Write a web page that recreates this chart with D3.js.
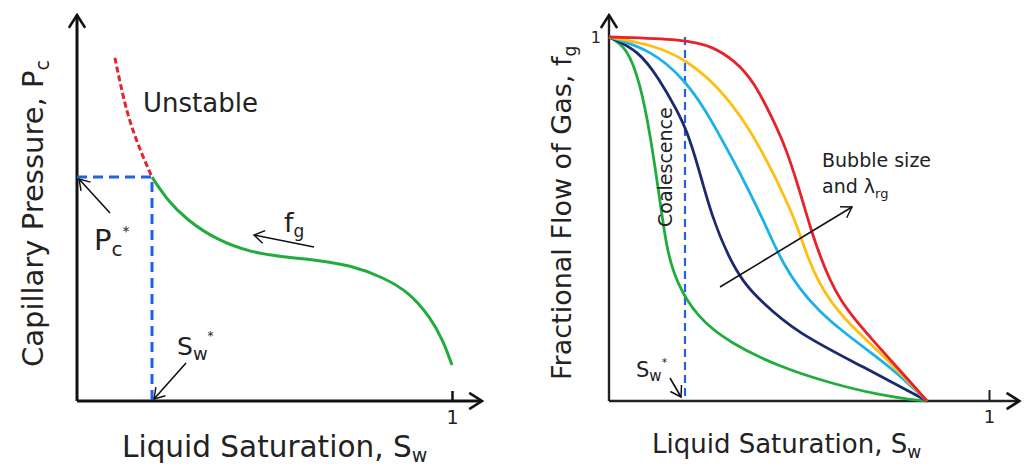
<!DOCTYPE html>
<html>
<head>
<meta charset="utf-8">
<script src="https://cdn.jsdelivr.net/npm/d3@7"></script>
<style>
  body { margin: 0; background: #fff; }
  svg { display: block; font-family: 'DejaVu Sans', sans-serif; }
  text { fill: #222; }
</style>
</head>
<body>
<div id="chart"></div>
<script>
// capillary pressure curve (Sw, Pc in 0..1)
const pcStableSw = [0.2, 0.24, 0.293, 0.373, 0.461, 0.549, 0.64, 0.728, 0.816, 0.888, 0.941, 0.976, 1.0];
const pcStable   = [0.58, 0.521, 0.469, 0.417, 0.386, 0.373, 0.365, 0.352, 0.321, 0.28, 0.218, 0.158, 0.093];
const pcUnstableSw = [0.101, 0.115, 0.136, 0.168, 0.2];
const pcUnstable   = [0.889, 0.824, 0.736, 0.65, 0.58];

// fractional flow curves (Sw, fg)
const fgGreen = [[0, 1], [0.047, 0.973], [0.082, 0.873], [0.108, 0.736], [0.134, 0.552], [0.152, 0.415],
  [0.178, 0.324], [0.231, 0.231], [0.318, 0.159], [0.45, 0.093], [0.582, 0.049], [0.713, 0.016], [0.8, 0.003], [0.837, 0]];
const fgNavy = [[0, 1], [0.077, 0.964], [0.134, 0.882], [0.178, 0.8], [0.204, 0.745], [0.235, 0.644],
  [0.27, 0.507], [0.318, 0.388], [0.355, 0.325], [0.397, 0.277], [0.494, 0.187], [0.669, 0.094], [0.837, 0]];
const fgCyan = [[0, 1], [0.112, 0.964], [0.2, 0.882], [0.253, 0.8], [0.283, 0.745], [0.325, 0.665],
  [0.365, 0.585], [0.4, 0.51], [0.43, 0.44], [0.46, 0.375], [0.5, 0.31], [0.55, 0.25], [0.61, 0.195],
  [0.68, 0.14], [0.75, 0.085], [0.837, 0]];
const fgOrange = [[0, 1], [0.116, 0.978], [0.2, 0.94], [0.29, 0.862], [0.362, 0.76], [0.4, 0.69],
  [0.435, 0.62], [0.462, 0.56], [0.485, 0.507], [0.505, 0.45], [0.525, 0.39], [0.55, 0.33], [0.585, 0.27],
  [0.63, 0.215], [0.68, 0.165], [0.74, 0.105], [0.837, 0]];
const fgRed = [[0, 1], [0.2, 0.994], [0.275, 0.973], [0.33, 0.935], [0.38, 0.882], [0.445, 0.745],
  [0.47, 0.68], [0.495, 0.6], [0.515, 0.53], [0.535, 0.46], [0.555, 0.4], [0.58, 0.335], [0.61, 0.275],
  [0.65, 0.22], [0.7, 0.16], [0.757, 0.094], [0.837, 0]];

const swStar = 0.2;
const pcStar = 0.58;
const tickVals = [1];

const svg = d3.select('#chart').append('svg')
  .attr('width', 1026)
  .attr('height', 472);

svg.append('rect').attr('width', 1026).attr('height', 472).attr('fill', '#fff');

// open arrowheads
const defs = svg.append('defs');
function marker(id, size, sw) {
  defs.append('marker')
    .attr('id', id)
    .attr('viewBox', '-12 -8 14 16')
    .attr('refX', 0).attr('refY', 0)
    .attr('markerWidth', size * 14 / 12).attr('markerHeight', size * 16 / 12)
    .attr('markerUnits', 'userSpaceOnUse')
    .attr('orient', 'auto')
    .append('path')
    .attr('d', 'M-11,-7 L0,0 L-11,7')
    .attr('fill', 'none')
    .attr('stroke', '#111')
    .attr('stroke-width', sw);
}
marker('axisHead', 14, 2.2);
marker('thinHead', 11, 1.6);

// ---------- left panel: capillary pressure ----------
const xL = d3.scaleLinear().domain([0, 1]).range([77, 452]);
const yL = d3.scaleLinear().domain([0, 1]).range([401, 15]);
const gL = svg.append('g');

gL.append('g')
  .attr('transform', `translate(0,${yL(0)})`)
  .call(d3.axisBottom(xL).tickValues(tickVals).tickSize(-10).tickPadding(10).tickFormat(d3.format('d')))
  .call(g => g.select('.domain').remove())
  .call(g => g.selectAll('line').attr('stroke', '#111').attr('stroke-width', 2.5))
  .call(g => g.selectAll('text').attr('font-size', 19).attr('font-family', 'DejaVu Sans').attr('fill', '#222'));

gL.append('line')
  .attr('x1', xL(0)).attr('y1', yL(0)).attr('x2', xL(1.08)).attr('y2', yL(0))
  .attr('stroke', '#111').attr('stroke-width', 3).attr('marker-end', 'url(#axisHead)');
gL.append('line')
  .attr('x1', xL(0)).attr('y1', yL(0)).attr('x2', xL(0)).attr('y2', yL(1))
  .attr('stroke', '#111').attr('stroke-width', 3).attr('marker-end', 'url(#axisHead)');

// guides to the critical point
gL.append('path')
  .attr('d', `M${xL(0)},${yL(pcStar)} H${xL(swStar)} V${yL(0)}`)
  .attr('fill', 'none').attr('stroke', '#2262e2').attr('stroke-width', 3)
  .attr('stroke-dasharray', '10 6');

const lineL = d3.line().x(d => xL(d[0])).y(d => yL(d[1])).curve(d3.curveBasis);
gL.append('path')
  .datum(d3.zip(pcUnstableSw, pcUnstable))
  .attr('d', lineL)
  .attr('fill', 'none').attr('stroke', '#e3262b').attr('stroke-width', 3)
  .attr('stroke-dasharray', '6 3');
gL.append('path')
  .datum(d3.zip(pcStableSw, pcStable))
  .attr('d', lineL)
  .attr('fill', 'none').attr('stroke', '#21ac3e').attr('stroke-width', 3);

// annotations
gL.append('text').attr('x', 143).attr('y', 112).attr('font-size', 26).text('Unstable');

const pcLab = gL.append('text').attr('x', 94).attr('y', 250).attr('font-size', 29);
pcLab.append('tspan').text('P');
pcLab.append('tspan').attr('font-size', 20).attr('dy', 6).text('c');
pcLab.append('tspan').attr('font-size', 14).attr('dy', -20).text('*');

const fgLab = gL.append('text').attr('x', 284).attr('y', 232).attr('font-size', 27);
fgLab.append('tspan').text('f');
fgLab.append('tspan').attr('font-size', 17).attr('dy', 5).text('g');

const swLab = gL.append('text').attr('x', 177).attr('y', 355).attr('font-size', 25);
swLab.append('tspan').text('S');
swLab.append('tspan').attr('font-size', 18).attr('dy', 5).text('w');
swLab.append('tspan').attr('font-size', 12).attr('dy', -20).text('*');

[[110, 213, 79, 179], [314, 247, 254, 235], [186, 363, 154, 399]].forEach(a => {
  gL.append('line')
    .attr('x1', a[0]).attr('y1', a[1]).attr('x2', a[2]).attr('y2', a[3])
    .attr('stroke', '#111').attr('stroke-width', 1.6).attr('marker-end', 'url(#thinHead)');
});

// axis titles
const ttlL = gL.append('text').attr('x', 122).attr('y', 457).attr('font-size', 29.5);
ttlL.append('tspan').text('Liquid Saturation,  S');
ttlL.append('tspan').attr('font-size', 19).attr('dy', 5).text('w');

const ytL = gL.append('text')
  .attr('transform', 'translate(43,367) rotate(-90)')
  .attr('font-size', 29);
ytL.append('tspan').text('Capillary Pressure, P');
ytL.append('tspan').attr('font-size', 19).attr('dy', 6).text('c');

// ---------- right panel: fractional flow ----------
const xR = d3.scaleLinear().domain([0, 1]).range([609, 989]);
const yR = d3.scaleLinear().domain([0, 1]).range([401, 37]);
const gR = svg.append('g');

gR.append('g')
  .attr('transform', `translate(0,${yR(0)})`)
  .call(d3.axisBottom(xR).tickValues(tickVals).tickSize(-11).tickPadding(9).tickFormat(d3.format('d')))
  .call(g => g.select('.domain').remove())
  .call(g => g.selectAll('line').attr('stroke', '#222').attr('stroke-width', 2))
  .call(g => g.selectAll('text').attr('font-size', 18).attr('font-family', 'DejaVu Sans').attr('fill', '#222'));

gR.append('g')
  .attr('transform', `translate(${xR(0)},0)`)
  .call(d3.axisLeft(yR).tickValues(tickVals).tickSize(0).tickPadding(8).tickFormat(d3.format('d')))
  .call(g => g.select('.domain').remove())
  .call(g => g.selectAll('text').attr('font-size', 16).attr('font-family', 'DejaVu Sans').attr('fill', '#222'));

gR.append('line')
  .attr('x1', xR(0)).attr('y1', yR(0)).attr('x2', xR(1.08)).attr('y2', yR(0))
  .attr('stroke', '#222').attr('stroke-width', 2.4).attr('marker-end', 'url(#axisHead)');
gR.append('line')
  .attr('x1', xR(0)).attr('y1', yR(0)).attr('x2', xR(0)).attr('y2', yR(1.06))
  .attr('stroke', '#222').attr('stroke-width', 2.4).attr('marker-end', 'url(#axisHead)');

gR.append('line')
  .attr('x1', xR(swStar)).attr('y1', yR(1)).attr('x2', xR(swStar)).attr('y2', yR(0))
  .attr('stroke', '#2262e2').attr('stroke-width', 2.2).attr('stroke-dasharray', '8 5');

const lineR = d3.line().x(d => xR(d[0])).y(d => yR(d[1])).curve(d3.curveBasis);
const curves = [
  { pts: fgGreen, color: '#21ac3e' },
  { pts: fgNavy, color: '#1b2a6c' },
  { pts: fgCyan, color: '#1cb1ea' },
  { pts: fgOrange, color: '#ffbf10' },
  { pts: fgRed, color: '#e8222a' }
];
gR.selectAll('path.fg')
  .data(curves)
  .join('path')
  .attr('class', 'fg')
  .attr('d', d => lineR(d.pts))
  .attr('fill', 'none')
  .attr('stroke', d => d.color)
  .attr('stroke-width', 2.8);

gR.append('text')
  .attr('transform', 'translate(672,227) rotate(-90)')
  .attr('font-size', 19).text('Coalescence');

gR.append('text').attr('x', 822).attr('y', 167).attr('font-size', 19).text('Bubble size');
const lam = gR.append('text').attr('x', 822).attr('y', 193).attr('font-size', 19);
lam.append('tspan').text('and λ');
lam.append('tspan').attr('font-size', 13).attr('dy', 5).text('rg');

gR.append('line')
  .attr('x1', 720).attr('y1', 287).attr('x2', 852).attr('y2', 207)
  .attr('stroke', '#111').attr('stroke-width', 1.6).attr('marker-end', 'url(#thinHead)');

const swR = gR.append('text').attr('x', 636).attr('y', 377).attr('font-size', 21);
swR.append('tspan').text('S');
swR.append('tspan').attr('font-size', 15).attr('dy', 4).text('w');
swR.append('tspan').attr('font-size', 11).attr('dy', -15).text('*');

gR.append('line')
  .attr('x1', 670).attr('y1', 378).attr('x2', 681).attr('y2', 397)
  .attr('stroke', '#111').attr('stroke-width', 1.6).attr('marker-end', 'url(#thinHead)');

const ttlR = gR.append('text').attr('x', 652).attr('y', 453).attr('font-size', 26);
ttlR.append('tspan').text('Liquid Saturation, S');
ttlR.append('tspan').attr('font-size', 17).attr('dy', 5).text('w');

const ytR = gR.append('text')
  .attr('transform', 'translate(571,380) rotate(-90)')
  .attr('font-size', 27);
ytR.append('tspan').text('Fractional Flow of Gas, f');
ytR.append('tspan').attr('font-size', 17).attr('dy', 5).text('g');
</script>
</body>
</html>
